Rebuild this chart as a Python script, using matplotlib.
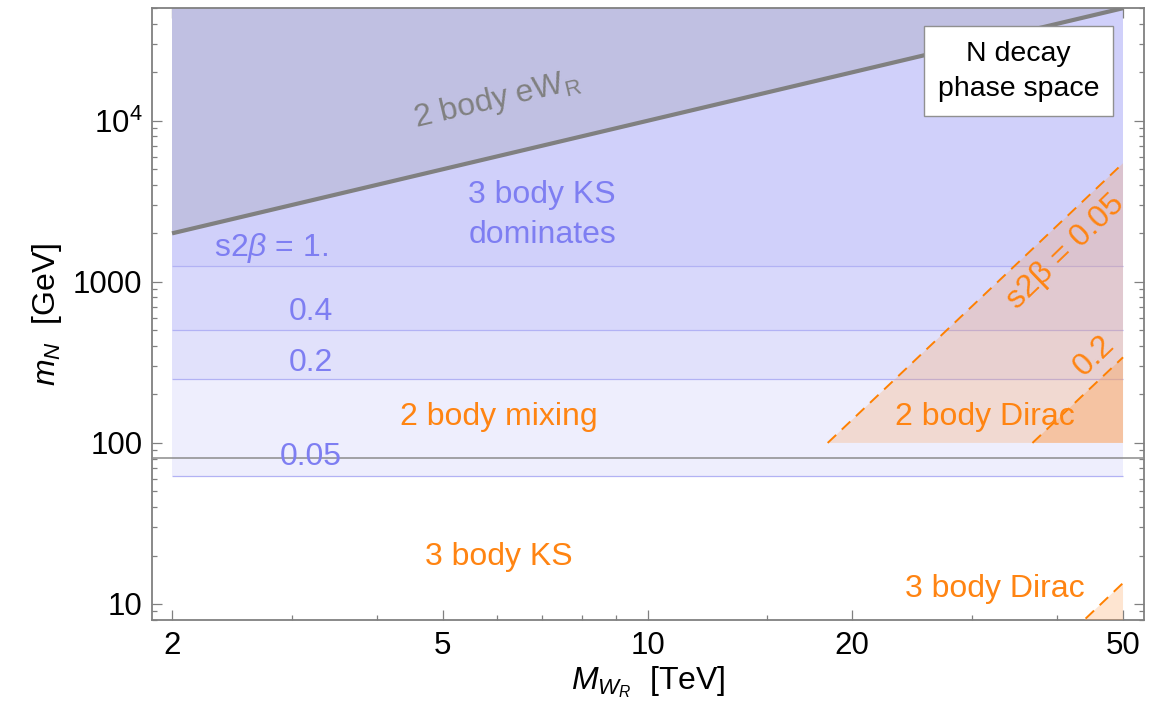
import matplotlib
matplotlib.use("Agg")
import matplotlib.pyplot as plt
import numpy as np

plt.rcParams['font.family'] = ['Liberation Sans', 'DejaVu Sans']
plt.rcParams['mathtext.fontset'] = 'custom'
plt.rcParams['mathtext.rm'] = 'Liberation Sans'
plt.rcParams['mathtext.it'] = 'Liberation Sans:italic'
plt.rcParams['mathtext.bf'] = 'Liberation Sans:bold'

# ---------------- data ----------------
MWR_range = [2.0, 50.0]                 # TeV, extent of the shaded regions
mN_top = 50000.0                        # GeV
s2beta_levels = [1.0, 0.4, 0.2, 0.05]
s2beta_mN = [1250.0, 500.0, 250.0, 62.5]   # GeV, boundaries of the 3-body-KS bands
band_colors = ['#d0d0fa', '#d8d8fb', '#e1e1fb', '#eeeefd']

eWR_MWR = [2.0, 50.0]                   # 2 body eW_R threshold
eWR_mN = [2000.0, 50000.0]
eWR_fill_MWR = [2.0, 50.0, 2.0]
eWR_fill_mN = [2000.0, 50000.0, 50000.0]

MW = 80.4                               # GeV

dirac05_MWR = [18.4, 50.0]              # s2beta = 0.05 2 body Dirac boundary
dirac05_mN = [100.0, 5450.0]
dirac02_MWR = [36.8, 50.0]              # s2beta = 0.2
dirac02_mN = [100.0, 340.0]
dirac_floor = 100.0
dirac3_MWR = [42.0, 50.0]               # 3 body Dirac boundary
dirac3_mN = [6.7, 13.5]

xticks_major = [2, 5, 10, 20, 50]
xticks_minor = [3, 4, 6, 7, 8, 9, 15, 30, 40]
xtick_labels = ['2', '5', '10', '20', '50']
yticks_major = [10, 100, 1000, 10000]
ytick_labels = ['10', '100', '1000', r'$\mathregular{10^4}$']

# ---------------- figure ----------------
fig = plt.figure(figsize=(11.52, 7.27), dpi=100)
ax = fig.add_axes([152/1152, 107/727, 992/1152, 611.8/727])
ax.set_xscale('log')
ax.set_yscale('log')
ax.set_xlim(1.869, 53.68)
ax.set_ylim(7.955, mN_top)

lav = '#7e7ef2'
orange = '#ff8412'
ocol = (0.99, 0.64, 0.36)

# blue bands (stacked from top threshold down)
tops = [mN_top] + s2beta_mN[:-1]
for lo, hi, c in zip(s2beta_mN, tops, band_colors):
    ax.fill_between(MWR_range, [lo, lo], [hi, hi], color=c, lw=0, zorder=1)

# dark region above eW_R
ax.fill(eWR_fill_MWR, eWR_fill_mN, color='#c0c0e2', lw=0, zorder=2)

# band boundary lines
ax.hlines(s2beta_mN, MWR_range[0], MWR_range[1], color='#b2b2f4', lw=0.9, zorder=3)
# M_W line
ax.axhline(MW, color='#8c8c8c', lw=1.1, zorder=3)

# orange Dirac regions
ax.fill([dirac05_MWR[0], dirac05_MWR[1], dirac05_MWR[1]],
        [dirac05_mN[0], dirac05_mN[1], dirac_floor], color=ocol, alpha=0.27, lw=0, zorder=4)
ax.fill([dirac02_MWR[0], dirac02_MWR[1], dirac02_MWR[1]],
        [dirac02_mN[0], dirac02_mN[1], dirac_floor], color=ocol, alpha=0.4, lw=0, zorder=4)
ax.fill([dirac3_MWR[0], dirac3_MWR[1], dirac3_MWR[1]],
        [dirac3_mN[0], dirac3_mN[1], dirac3_mN[0]], color=ocol, alpha=0.28, lw=0, zorder=4)

for xs, ys in [(dirac05_MWR, dirac05_mN), (dirac02_MWR, dirac02_mN), (dirac3_MWR, dirac3_mN)]:
    ax.plot(xs, ys, color='#ff8000', lw=1.4, dashes=(6, 4), zorder=5)

# eW_R line
ax.plot(eWR_MWR, eWR_mN, color='#808080', lw=3.0, zorder=6, solid_capstyle='butt')

# ---------------- texts ----------------
fs = 23
ax.text(6.01, 13430, r'2 body eW$_{\mathregular{R}}$', color='#808080', fontsize=fs,
        rotation=13.3, ha='center', va='center', rotation_mode='anchor', zorder=7)
ax.text(7.0, 2600, '3 body KS\ndominates', color=lav, fontsize=fs, ha='center',
        va='center', linespacing=1.4, zorder=7)
ax.text(2.797, 1622, r's2$\beta$ = 1.', color=lav, fontsize=fs, ha='center', va='center', zorder=7)
ax.text(3.203, 649, '0.4', color=lav, fontsize=fs, ha='center', va='center', zorder=7)
ax.text(3.203, 313, '0.2', color=lav, fontsize=fs, ha='center', va='center', zorder=7)
ax.text(3.203, 82.3, '0.05', color=lav, fontsize=fs, ha='center', va='center', zorder=7)
ax.text(6.05, 145, '2 body mixing', color=orange, fontsize=fs, ha='center', va='center', zorder=7)
ax.text(6.05, 19.6, '3 body KS', color=orange, fontsize=fs, ha='center', va='center', zorder=7)
ax.text(31.3, 145, '2 body Dirac', color=orange, fontsize=fs, ha='center', va='center', zorder=7)
ax.text(32.4, 12.4, '3 body Dirac', color=orange, fontsize=fs, ha='center', va='center', zorder=7)
ax.text(41.2, 1530, 's2β = 0.05', color=orange, fontsize=fs, ha='center', va='center',
        rotation=44, rotation_mode='anchor', zorder=7)
ax.text(45.3, 346, '0.2', color=orange, fontsize=fs, ha='center', va='center',
        rotation=44, rotation_mode='anchor', zorder=7)

ax.text(0.8735, 0.897, 'N decay\nphase space', transform=ax.transAxes, fontsize=20.5,
        ha='center', va='center', linespacing=1.45, zorder=8,
        bbox=dict(boxstyle='square,pad=0.5', fc='white', ec='#909090', lw=1.0))

# ---------------- axes styling ----------------
ax.set_xticks(xticks_major)
ax.set_xticklabels(xtick_labels)
ax.set_xticks(xticks_minor, minor=True)
ax.set_xticklabels([], minor=True)
ax.set_yticks(yticks_major)
ax.set_yticklabels(ytick_labels)
ax.yaxis.set_minor_locator(matplotlib.ticker.LogLocator(base=10, subs=np.arange(2, 10)))
ax.yaxis.set_minor_formatter(matplotlib.ticker.NullFormatter())

ax.tick_params(which='both', direction='in', top=True, right=True, color='#808080',
               labelsize=22.5, width=0.9)
ax.tick_params(which='major', length=7.5)
ax.tick_params(which='minor', length=3.8)
ax.tick_params(axis='x', which='major', pad=8)
ax.tick_params(axis='y', which='major', pad=7)
for s in ax.spines.values():
    s.set_color('#808080')
    s.set_linewidth(1.3)

ax.set_xlabel(r'$M_{W_R}$  [TeV]', fontsize=23, labelpad=2)
ax.set_ylabel(r'$m_N$  [GeV]', fontsize=23, labelpad=6)

fig.savefig('out.png', dpi=100)
